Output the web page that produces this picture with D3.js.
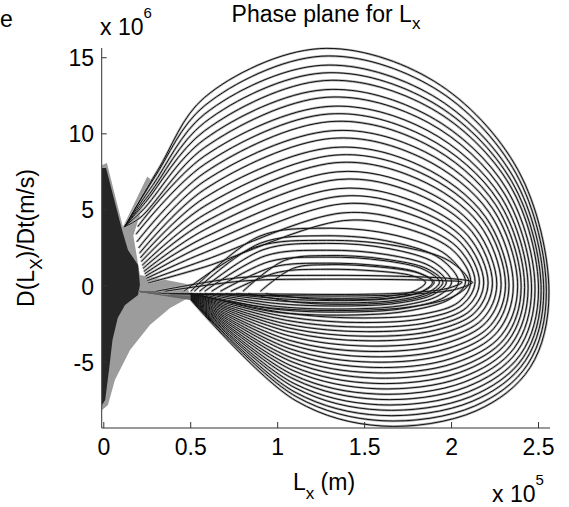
<!DOCTYPE html>
<html>
<head>
<meta charset="utf-8">
<script src="https://cdn.jsdelivr.net/npm/d3@7"></script>
<style>
  body { margin: 0; background: #fff; }
  text { font-family: "Liberation Sans", Arial, sans-serif; fill: #000; }
</style>
</head>
<body>
<svg id="chart" width="569" height="507"></svg>
<script>
// units: L_x in 1e5 m, D(L_x)/Dt in 1e6 m/s
const xTicks = [0, 0.5, 1, 1.5, 2, 2.5];
const yTicks = [-5, 0, 5, 10, 15];
const xTickLabels = ['0', '0.5', '1', '1.5', '2', '2.5'];
const yTickLabels = ['-5', '0', '5', '10', '15'];

// big loops, outer to inner
const startX = [0.31, 0.29, 0.28, 0.26, 0.24, 0.225, 0.21, 0.195, 0.185, 0.19, 0.2, 0.205, 0.21, 0.215, 0.22, 0.225, 0.23, 0.235, 0.24, 0.245, 0.25, 0.255];
const startY = [7.6, 7.1, 6.6, 6.0, 5.5, 5.0, 4.5, 3.9, 3.4, 2.9, 2.5, 2.15, 1.85, 1.6, 1.35, 1.15, 0.95, 0.8, 0.65, 0.5, 0.35, 0.2];
const shoulderY = [12.4, 11.85, 11.3, 10.75, 10.2, 9.65, 9.1, 8.55, 8.0, 7.45, 6.9, 6.35, 5.8, 5.25, 4.7, 4.2, 3.7, 3.2, 2.7, 2.2, 1.7, 1.25];
const topX = [1.24, 1.25, 1.25, 1.26, 1.27, 1.27, 1.28, 1.29, 1.29, 1.3, 1.31, 1.31, 1.32, 1.33, 1.33, 1.34, 1.35, 1.35, 1.36, 1.37, 1.37, 1.38];
const topY = [15.6, 15.1, 14.5, 14.0, 13.5, 12.9, 12.4, 11.8, 11.3, 10.8, 10.2, 9.7, 9.1, 8.6, 8.1, 7.5, 7.0, 6.4, 5.9, 5.4, 4.8, 4.3];
const rightX = [2.56, 2.545, 2.53, 2.515, 2.5, 2.48, 2.46, 2.44, 2.42, 2.4, 2.38, 2.355, 2.33, 2.31, 2.285, 2.26, 2.235, 2.21, 2.185, 2.16, 2.135, 2.11];
const rightY = [-0.4, -0.35, -0.3, -0.3, -0.25, -0.2, -0.2, -0.15, -0.1, -0.1, -0.05, 0, 0, 0.05, 0.1, 0.1, 0.15, 0.2, 0.2, 0.25, 0.3, 0.3];
const bottomX = [1.6, 1.6, 1.59, 1.59, 1.58, 1.58, 1.57, 1.57, 1.56, 1.56, 1.55, 1.55, 1.54, 1.54, 1.53, 1.53, 1.52, 1.52, 1.51, 1.51, 1.5, 1.5];
const bottomY = [-9.2, -8.85, -8.5, -8.15, -7.8, -7.45, -7.1, -6.75, -6.4, -6.05, -5.7, -5.35, -5.0, -4.65, -4.3, -3.95, -3.6, -3.3, -3.0, -2.7, -2.4, -2.1];
const endY = [-0.9, -0.88, -0.86, -0.84, -0.82, -0.8, -0.78, -0.76, -0.74, -0.72, -0.7, -0.68, -0.66, -0.64, -0.62, -0.6, -0.58, -0.56, -0.54, -0.52, -0.5, -0.48];
const vBottom = [0.12, 3.9];

// small inner loops
const innerLeftX = [0.5, 0.46, 0.52, 0.55, 0.8, 0.58, 0.62, 0.9, 0.67, 0.73, 0.3, 0.35];
const innerTopY = [3.8, 3.0, 3.3, 2.8, 2.0, 2.35, 1.9, 1.4, 1.5, 1.1, 0.7, 0.45];
const innerRightX = [2.08, 2.1, 2.04, 2.0, 1.95, 1.97, 1.93, 1.9, 1.89, 1.85, 2.12, 2.06];
const innerBottomY = [-1.9, -1.6, -1.7, -1.5, -1.2, -1.3, -1.1, -0.9, -0.95, -0.8, -0.65, -0.55];

// dense oscillation region near L_x = 0
const denseGray = [[-0.01, 7.95], [0.018, 8.08], [0.11, 3.88], [0.25, 7.2], [0.27, 7.0], [0.17, 3.3], [0.208, 0.72], [0.478, 0.13], [0.496, -0.72], [0.381, -1.45], [0.265, -2.56], [0.151, -4.2], [0.064, -6.18], [0.024, -7.82], [-0.01, -8.15]];
const denseDark = [[-0.01, 7.75], [0.013, 7.75], [0.053, 5.98], [0.105, 3.68], [0.139, 2.37], [0.197, 1.38], [0.208, 0.07], [0.197, -0.59], [0.122, -1.25], [0.08, -2.1], [0.05, -3.55], [0.03, -5.52], [0.008, -7.49], [-0.01, -7.82]];

const W = 569, H = 507;
const plot = {left: 101.7, right: 550, top: 48, bottom: 428};
const x = d3.scaleLinear().domain([-0.012, 2.566]).range([plot.left, plot.right]);
const y = d3.scaleLinear().domain([-9.33, 15.64]).range([plot.bottom, plot.top]);

const svg = d3.select('#chart');
const rad = a => a * Math.PI / 180;

function bigLoop(i) {
	const rx = rightX[i] - topX[i], ry = topY[i] - rightY[i];
	const rx2 = rightX[i] - bottomX[i], ry2 = rightY[i] - bottomY[i];
	const rx3 = bottomX[i] - 0.5, ry3 = endY[i] - bottomY[i];
	const se = v => Math.pow(v, 0.83);
	const pts = [
		[startX[i], startY[i]],
		[0.58, shoulderY[i]],
		[topX[i], topY[i]],
		[topX[i] + rx * Math.cos(rad(60)), rightY[i] + ry * Math.sin(rad(60))],
		[topX[i] + rx * Math.cos(rad(30)), rightY[i] + ry * Math.sin(rad(30))],
		[rightX[i], rightY[i]],
		[bottomX[i] + rx2 * se(Math.cos(rad(30))), rightY[i] - ry2 * se(Math.sin(rad(30)))],
		[bottomX[i] + rx2 * se(Math.cos(rad(60))), rightY[i] - ry2 * se(Math.sin(rad(60)))],
		[bottomX[i], bottomY[i]],
		[bottomX[i] - rx3 * 0.45, endY[i] - ry3 * 0.8],
		[0.5, endY[i]]
	];
	if (startY[i] > vBottom[1]) pts.unshift(vBottom);
	return pts;
}

function innerLoop(j) {
	const cx = 1.28, bx = 1.45, cy = -0.35, ry0 = 0.25;
	const l = innerLeftX[j], t = innerTopY[j], r = innerRightX[j], b = innerBottomY[j];
	return [
		[l, cy],
		[cx - (cx - l) * 0.5, cy + (t - cy) * 0.866],
		[cx, t],
		[cx + (r - cx) * 0.5, ry0 + (t - ry0) * 0.866],
		[cx + (r - cx) * 0.866, ry0 + (t - ry0) * 0.5],
		[r, ry0],
		[bx + (r - bx) * 0.866, ry0 - (ry0 - b) * 0.5],
		[bx + (r - bx) * 0.5, ry0 - (ry0 - b) * 0.866],
		[bx, b],
		[bx - (bx - l) * 0.5, cy - (cy - b) * 0.866],
		[l + 0.03, cy - 0.15]
	];
}

const line = d3.line()
	.x(d => x(d[0]))
	.y(d => y(d[1]))
	.curve(d3.curveCatmullRom.alpha(0.5));
const straight = d3.line().x(d => x(d[0])).y(d => y(d[1]));
const poly = d3.line().x(d => x(d[0])).y(d => y(d[1])).curve(d3.curveLinearClosed);

svg.append('rect').attr('width', W).attr('height', H).attr('fill', '#fff');

const g = svg.append('g');
g.append('path').attr('d', poly(denseGray)).attr('fill', '#9c9c9c');
g.append('path').attr('d', poly(denseDark)).attr('fill', '#262626');

// return legs from the convergence point back towards L_x = 0
g.selectAll('path.tail')
	.data(endY)
	.join('path')
	.attr('class', 'tail')
	.attr('d', e => straight([[0.5, e], [0.2, -0.35]]))
	.attr('stroke', '#666')
	.attr('stroke-width', 0.7);

const allLoops = d3.range(topY.length).map(bigLoop)
	.concat(d3.range(innerTopY.length).map(innerLoop));

// grey halo under each trace mimics the jagged raster look of the original
g.selectAll('path.halo')
	.data(allLoops)
	.join('path')
	.attr('class', 'halo')
	.attr('d', line)
	.attr('fill', 'none')
	.attr('stroke', '#b0b0b0')
	.attr('stroke-width', 2.4);

g.selectAll('path.trace')
	.data(allLoops)
	.join('path')
	.attr('class', 'trace')
	.attr('d', line)
	.attr('fill', 'none')
	.attr('stroke', '#111')
	.attr('stroke-width', 1);

// axes (MATLAB style: ticks inside, only left and bottom)
const axisColor = '#333';
svg.append('line')
	.attr('x1', plot.left).attr('x2', plot.left)
	.attr('y1', plot.top).attr('y2', plot.bottom)
	.attr('stroke', axisColor);
svg.append('line')
	.attr('x1', plot.left).attr('x2', plot.right)
	.attr('y1', plot.bottom).attr('y2', plot.bottom)
	.attr('stroke', axisColor);

svg.selectAll('line.xt').data(xTicks).join('line')
	.attr('class', 'xt')
	.attr('x1', d => x(d)).attr('x2', d => x(d))
	.attr('y1', plot.bottom).attr('y2', plot.bottom - 6)
	.attr('stroke', axisColor);
svg.selectAll('line.yt').data(yTicks).join('line')
	.attr('class', 'yt')
	.attr('x1', plot.left).attr('x2', plot.left + 5)
	.attr('y1', d => y(d)).attr('y2', d => y(d))
	.attr('stroke', axisColor);

svg.selectAll('text.xl').data(xTicks).join('text')
	.attr('class', 'xl')
	.attr('x', d => x(d))
	.attr('y', 455)
	.attr('text-anchor', 'middle')
	.attr('font-size', 23)
	.text((d, i) => xTickLabels[i]);
svg.selectAll('text.yl').data(yTicks).join('text')
	.attr('class', 'yl')
	.attr('x', 94)
	.attr('y', d => y(d) + 8.5)
	.attr('text-anchor', 'end')
	.attr('font-size', 23)
	.text((d, i) => yTickLabels[i]);

// exponents
const y10 = svg.append('text').attr('x', 100).attr('y', 35).attr('font-size', 23);
y10.append('tspan').text('x 10');
y10.append('tspan').attr('font-size', 15).attr('dy', -17).text('6');
const x10 = svg.append('text').attr('x', 492).attr('y', 502).attr('font-size', 23);
x10.append('tspan').text('x 10');
x10.append('tspan').attr('font-size', 15).attr('dy', -17).text('5');

// title
const title = svg.append('text').attr('x', 326).attr('y', 21.5).attr('text-anchor', 'middle').attr('font-size', 23);
title.append('tspan').text('Phase plane for L');
title.append('tspan').attr('font-size', 17).attr('dy', 7).text('x');

// x label
const xl = svg.append('text').attr('x', 324).attr('y', 490).attr('text-anchor', 'middle').attr('font-size', 23);
xl.append('tspan').text('L');
xl.append('tspan').attr('font-size', 17).attr('dy', 9).text('x');
xl.append('tspan').attr('dy', -9).text(' (m)');

// y label
const yl = svg.append('text')
	.attr('transform', 'translate(34,238) rotate(-90)')
	.attr('text-anchor', 'middle')
	.attr('font-size', 23);
yl.append('tspan').text('D(L');
yl.append('tspan').attr('font-size', 17).attr('dy', 8).text('X');
yl.append('tspan').attr('dy', -8).text(')/Dt(m/s)');

// panel letter
svg.append('text').attr('x', 0).attr('y', 27).attr('font-size', 23).text('e');
</script>
</body>
</html>
